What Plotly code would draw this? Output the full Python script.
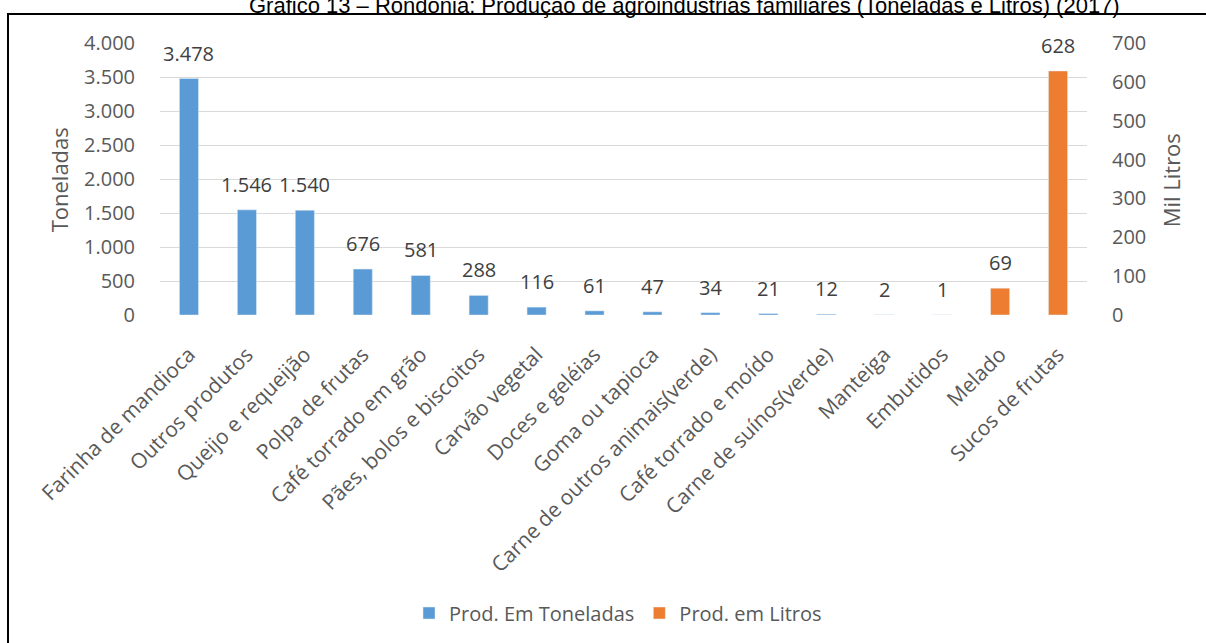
import plotly.graph_objects as go

# Produção das agroindústrias familiares em Rondônia (2017)
categorias = [
    "Farinha de mandioca", "Outros produtos", "Queijo e requeijão", "Polpa de frutas",
    "Café torrado em grão", "Pães, bolos e biscoitos", "Carvão vegetal", "Doces e geléias",
    "Goma ou tapioca", "Carne de outros animais(verde)", "Café torrado e moído",
    "Carne de suínos(verde)", "Manteiga", "Embutidos", "Melado", "Sucos de frutas",
]
cat_toneladas = categorias[:14]
toneladas = [3478, 1546, 1540, 676, 581, 288, 116, 61, 47, 34, 21, 12, 2, 1]
cat_litros = categorias[14:]
mil_litros = [69, 628]

ticks_ton = [0, 500, 1000, 1500, 2000, 2500, 3000, 3500, 4000]
ticks_lit = [0, 100, 200, 300, 400, 500, 600, 700]

AZUL = "#5B9BD5"
LARANJA = "#ED7D31"
CINZA = "#595959"
FONTE = "Open Sans"

W, H = 1206, 643
ML, MR, MT, MB = 160, 119, 43, 327
PW = W - ML - MR
PH = H - MT - MB


def px_x(px):
    return (px - ML) / PW


def px_y(py):
    return (H - MB - py) / PH


def fmt(v):
    return f"{v:,}".replace(",", ".")


fig = go.Figure()
fig.add_trace(go.Bar(
    x=cat_toneladas, y=toneladas, name="Prod. Em Toneladas",
    marker_color=AZUL, width=0.33, yaxis="y",
))
fig.add_trace(go.Bar(
    x=cat_litros, y=mil_litros, name="Prod. em Litros",
    marker_color=LARANJA, width=0.33, yaxis="y2",
))

annotations = []
for c, v in zip(cat_toneladas, toneladas):
    annotations.append(dict(x=c, y=v, xref="x", yref="y", text=fmt(v), showarrow=False,
                            yanchor="bottom", yshift=10,
                            font=dict(family=FONTE, size=20, color="#404040")))
for c, v in zip(cat_litros, mil_litros):
    annotations.append(dict(x=c, y=v, xref="x", yref="y2", text=fmt(v), showarrow=False,
                            yanchor="bottom", yshift=10,
                            font=dict(family=FONTE, size=20, color="#404040")))

annotations += [
    dict(text="Toneladas", x=px_x(59), y=0.495, xref="paper", yref="paper",
         textangle=-90, showarrow=False, xanchor="center", yanchor="middle",
         font=dict(family=FONTE, size=22, color=CINZA)),
    dict(text="Mil Litros", x=px_x(1171), y=0.495, xref="paper", yref="paper",
         textangle=-90, showarrow=False, xanchor="center", yanchor="middle",
         font=dict(family=FONTE, size=22, color=CINZA)),
    dict(text="Gráfico 13 – Rondônia: Produção de agroindústrias familiares (Toneladas e Litros) (2017)",
         x=px_x(684), y=px_y(5), xref="paper", yref="paper", showarrow=False,
         xanchor="center", yanchor="middle",
         font=dict(family="Liberation Sans", size=22, color="#000000")),
]

fig.update_layout(
    width=W, height=H,
    margin=dict(l=ML, r=MR, t=MT, b=MB),
    paper_bgcolor="white", plot_bgcolor="white",
    barmode="overlay",
    separators=",.",
    font=dict(family=FONTE, color=CINZA),
    xaxis=dict(
        categoryorder="array", categoryarray=categorias,
        range=[-0.5, len(categorias) - 0.5],
        tickangle=-45, tickfont=dict(family=FONTE, size=21, color=CINZA),
        showgrid=False, showline=False,
        ticks="outside", ticklen=18, tickcolor="rgba(0,0,0,0)",
    ),
    yaxis=dict(
        range=[0, 4000], tickvals=ticks_ton, tickformat=",d",
        tickfont=dict(family=FONTE, size=20, color=CINZA),
        showgrid=True, gridcolor="#D9D9D9", gridwidth=1,
        zeroline=False, showline=False,
        ticks="outside", ticklen=20, tickcolor="rgba(0,0,0,0)",
    ),
    yaxis2=dict(
        range=[0, 700], tickvals=ticks_lit, tickformat=",d",
        overlaying="y", side="right",
        tickfont=dict(family=FONTE, size=20, color=CINZA),
        showgrid=False, zeroline=False, showline=False,
        ticks="outside", ticklen=20, tickcolor="rgba(0,0,0,0)",
    ),
    legend=dict(
        orientation="h", x=px_x(618), xanchor="center", y=px_y(613), yanchor="middle",
        font=dict(family=FONTE, size=20, color=CINZA), itemwidth=30,
    ),
    annotations=annotations,
    shapes=[dict(type="rect", xref="paper", yref="paper",
                 x0=px_x(8), x1=1.4, y0=-1.6, y1=px_y(14),
                 line=dict(color="#000000", width=2), layer="below")],
)

fig.write_html("out.html")
